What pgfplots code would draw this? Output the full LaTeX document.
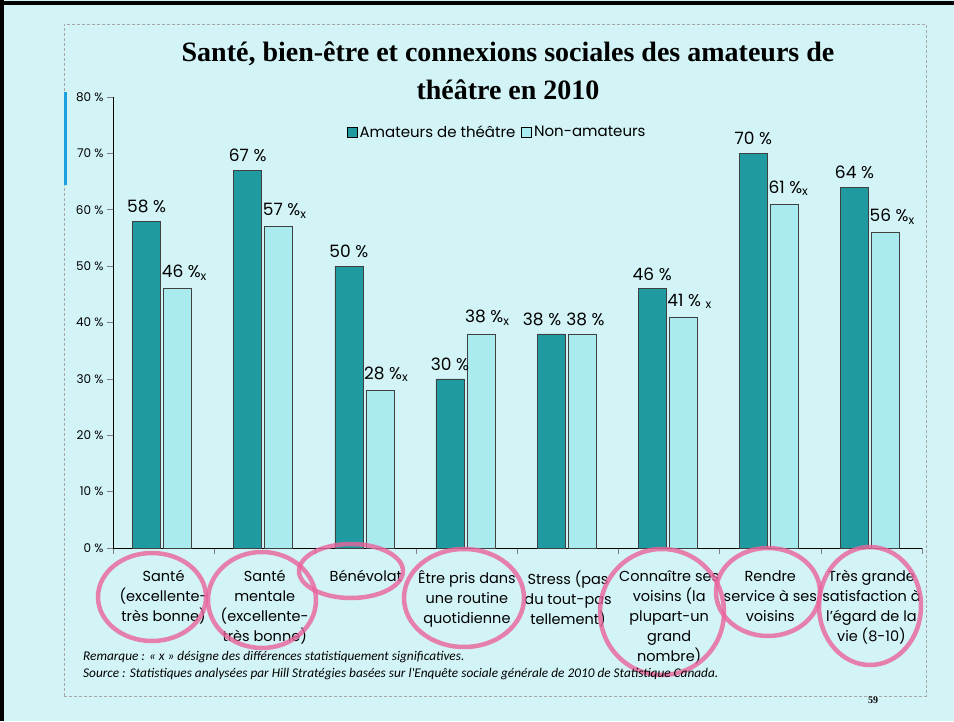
\documentclass[border=0pt]{standalone}
\usepackage{pgfplots}
\pgfplotsset{compat=1.18}
\usepackage{fontspec}
\setmainfont{Poppins}
\newfontfamily\titlefont{Liberation Serif}
\newfontfamily\notefont{Carlito}
\definecolor{bg}{RGB}{211,244,247}
\definecolor{amat}{RGB}{30,154,160}
\definecolor{nonamat}{RGB}{170,235,240}
\definecolor{ring}{RGB}{234,100,155}
\definecolor{accent}{RGB}{27,161,226}
\newcommand{\sx}{\textsubscript{x}}
\pgfplotsset{sqlegend/.style={legend image code/.code={\draw[##1,draw=black,line width=0.6pt] (0pt,-5pt) rectangle (10pt,5pt);}}}

\begin{document}
\begin{tikzpicture}[x=1pt,y=1pt]
\fill[bg] (0,0) rectangle (954,721);
\useasboundingbox (0,0) rectangle (954,721);
\draw[black, line width=4pt] (0,718) -- (954,718);
\draw[black, line width=4pt] (2,0) -- (2,721);
\draw[gray!70, densely dashed, line width=0.7pt] (64,25) rectangle (926,697);
\fill[accent] (64,536) rectangle (67,629);

\node[font=\titlefont\bfseries\fontsize{28}{38}\selectfont, align=center] at (508,650)
  {Santé, bien-être et connexions sociales des amateurs de\\théâtre en 2010};

\begin{axis}[
    at={(113pt,173pt)}, anchor=south west,
    scale only axis, width=809pt, height=451pt,
    ybar, bar width=28pt,
    xmin=-0.5, xmax=7.5, ymin=0, ymax=80,
    axis x line*=bottom, axis y line*=left,
    axis line style={black, line width=0.8pt},
    xtick={0,...,7},
    xticklabels={
      {Santé\\(excellente-\\très bonne)},
      {Santé\\mentale\\(excellente-\\très bonne)},
      {Bénévolat},
      {Être pris dans\\une routine\\quotidienne},
      {Stress (pas\\du tout-pas\\tellement)},
      {Connaître ses\\voisins (la\\plupart-un\\grand\\nombre)},
      {Rendre\\service à ses\\voisins},
      {Très grande\\satisfaction à\\l'égard de la\\vie (8-10)}},
    minor xtick={-0.5,0.5,...,7.5},
    major x tick style={draw=none},
    minor x tick style={gray, line width=0.6pt},
    minor tick length=6pt,
    ytick={0,10,...,80},
    yticklabel={\pgfmathprintnumber{\tick} \%},
    y tick style={gray, line width=0.6pt},
    tick align=outside,
    major tick length=6pt,
    /pgf/number format/assume math mode=true,
    y tick label style={font=\fontsize{12}{12}\selectfont},
    x tick label style={font=\fontsize{14.5}{20}\selectfont, align=center, anchor=north, yshift=-13pt},
    point meta=explicit symbolic,
    nodes near coords,
    every node near coord/.append style={font=\fontsize{17}{17}\selectfont, inner sep=3pt, yshift=5pt},
    legend style={at={(0.475,0.922)}, anchor=center, draw=none, fill=none,
      legend columns=-1, font=\fontsize{15}{15}\selectfont,
      /tikz/every even column/.append style={column sep=4pt}},
  ]
  \addplot[fill=amat, draw=black!75, line width=0.5pt, bar shift=-17pt, sqlegend]
    coordinates {(0,58) [58 \%] (1,67) [67 \%] (2,50) [50 \%] (3,30) [30 \%]
                 (4,38) [\hspace*{-18pt}38 \%] (5,46) [46 \%] (6,70) [70 \%] (7,64) [64 \%]};
  \addplot[fill=nonamat, draw=black!75, line width=0.5pt, bar shift=14pt, sqlegend,
      nodes near coords style={anchor=south west, xshift=-19pt}]
    coordinates {(0,46) [46 \%\sx] (1,57) [57 \%\sx] (2,28) [28 \%\sx] (3,38) [38 \%\sx]
                 (4,38) [38 \%] (5,41) [41 \% \sx] (6,61) [61 \%\sx] (7,56) [56 \%\sx]};
  \legend{Amateurs de théâtre, Non-amateurs}
\end{axis}

\begin{scope}[draw=ring, line width=4.5pt, opacity=0.8]
  \draw (152,124) ellipse [x radius=54pt, y radius=44pt];
  \draw (262,121) ellipse [x radius=54pt, y radius=48pt];
  \draw (351,150) ellipse [x radius=52pt, y radius=27pt];
  \draw (464,123) ellipse [x radius=60pt, y radius=49pt];
  \draw (662,109) ellipse [x radius=62pt, y radius=63pt];
  \draw (768,129) ellipse [x radius=52pt, y radius=44pt];
  \draw (870,115) ellipse [x radius=51pt, y radius=59pt];
\end{scope}

\node[anchor=base west, inner sep=0, font=\notefont\itshape\fontsize{13.3}{13.3}\selectfont] at (83,60)
  {Remarque : « x » désigne des différences statistiquement significatives.};
\node[anchor=base west, inner sep=0, font=\notefont\itshape\fontsize{13.3}{13.3}\selectfont] at (83,44)
  {Source : Statistiques analysées par Hill Stratégies basées sur l'Enquête sociale générale de 2010 de Statistique Canada.};
\node[font=\titlefont\bfseries\fontsize{10}{10}\selectfont] at (873,21) {59};
\end{tikzpicture}
\end{document}
